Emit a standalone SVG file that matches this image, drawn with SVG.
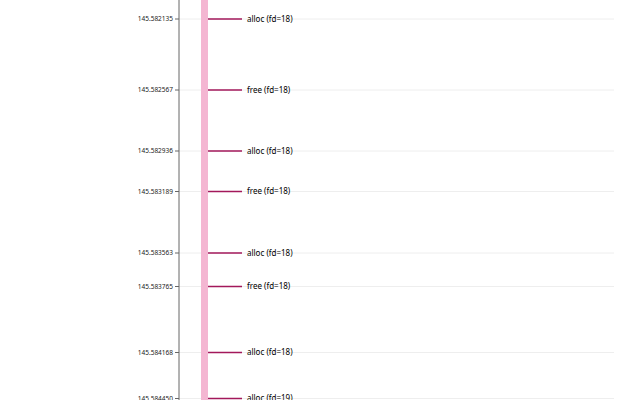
<svg xmlns="http://www.w3.org/2000/svg" width="640" height="400" viewBox="0 0 640 400">
<style>
.grid{stroke:#eeeeee;stroke-width:1}
.axis{stroke:#666;stroke-width:1}
.tick{stroke:#666;stroke-width:1}
.tl{font-family:"Noto Sans","Open Sans",sans-serif;font-size:6.5px;fill:#222;text-anchor:end}
.lbl{font-family:"Noto Sans","Open Sans",sans-serif;font-size:8px;fill:#000}
.con{stroke:#a3195b;stroke-width:1.5}
</style>
<rect width="640" height="400" fill="#fff"/>
<g id="grid">
<line class="grid" x1="179" y1="19" x2="614" y2="19"/>
<line class="grid" x1="179" y1="90" x2="614" y2="90"/>
<line class="grid" x1="179" y1="151" x2="614" y2="151"/>
<line class="grid" x1="179" y1="191.5" x2="614" y2="191.5"/>
<line class="grid" x1="179" y1="253" x2="614" y2="253"/>
<line class="grid" x1="179" y1="286.5" x2="614" y2="286.5"/>
<line class="grid" x1="179" y1="352.5" x2="614" y2="352.5"/>
<line class="grid" x1="179" y1="398.5" x2="614" y2="398.5"/>
</g>
<g id="axis">
<line class="axis" x1="179" y1="0" x2="179" y2="400"/>
<g class="tick">
<line x1="175" y1="19" x2="179" y2="19"/>
<line x1="175" y1="90" x2="179" y2="90"/>
<line x1="175" y1="151" x2="179" y2="151"/>
<line x1="175" y1="191.5" x2="179" y2="191.5"/>
<line x1="175" y1="253" x2="179" y2="253"/>
<line x1="175" y1="286.5" x2="179" y2="286.5"/>
<line x1="175" y1="352.5" x2="179" y2="352.5"/>
<line x1="175" y1="398.5" x2="179" y2="398.5"/>
</g>
<text class="tl" x="173" y="21.3">145.582135</text>
<text class="tl" x="173" y="92.3">145.582567</text>
<text class="tl" x="173" y="153.3">145.582936</text>
<text class="tl" x="173" y="193.8">145.583189</text>
<text class="tl" x="173" y="255.3">145.583563</text>
<text class="tl" x="173" y="288.8">145.583765</text>
<text class="tl" x="173" y="354.8">145.584168</text>
<text class="tl" x="173" y="400.8">145.584450</text>
</g>
<rect id="bar" x="201" y="0" width="7" height="400" fill="#f4b6d2"/>
<g id="connectors">
<line class="con" x1="208" y1="19" x2="242" y2="19"/>
<line class="con" x1="208" y1="90" x2="242" y2="90"/>
<line class="con" x1="208" y1="151" x2="242" y2="151"/>
<line class="con" x1="208" y1="191.5" x2="242" y2="191.5"/>
<line class="con" x1="208" y1="253" x2="242" y2="253"/>
<line class="con" x1="208" y1="286.5" x2="242" y2="286.5"/>
<line class="con" x1="208" y1="352.5" x2="242" y2="352.5"/>
<line class="con" x1="208" y1="398.5" x2="242" y2="398.5"/>
</g>
<g id="n1"><text class="lbl" x="247" y="21.8">alloc (fd=18)</text></g>
<g id="n2"><text class="lbl" x="247" y="92.8">free (fd=18)</text></g>
<g id="n3"><text class="lbl" x="247" y="153.8">alloc (fd=18)</text></g>
<g id="n4"><text class="lbl" x="247" y="194.3">free (fd=18)</text></g>
<g id="n5"><text class="lbl" x="247" y="255.8">alloc (fd=18)</text></g>
<g id="n6"><text class="lbl" x="247" y="289.3">free (fd=18)</text></g>
<g id="n7"><text class="lbl" x="247" y="355.3">alloc (fd=18)</text></g>
<g id="n8"><text class="lbl" x="247" y="401.3">alloc (fd=19)</text></g>
</svg>
